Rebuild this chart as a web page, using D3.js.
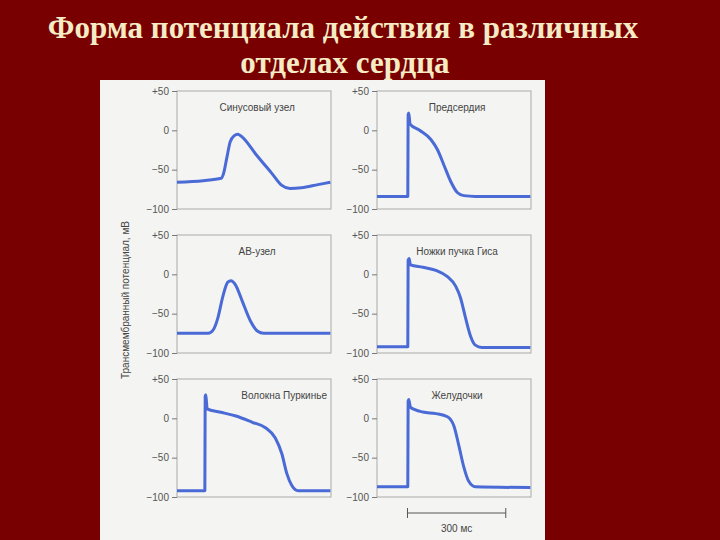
<!DOCTYPE html>
<html><head><meta charset="utf-8">
<script src="https://cdn.jsdelivr.net/npm/d3@7"></script>
<style>body{margin:0;background:#7a0000}svg{display:block}</style>
</head><body>
<svg width="720" height="540"></svg>
<script>
// данные: [время, мс; потенциал, мВ]
const titles = ['Синусовый узел', 'Предсердия', 'АВ-узел', 'Ножки пучка Гиса', 'Волокна Пуркинье', 'Желудочки']
const yTicks = [50, 0, -50, -100]
const tickLabels = ['+50', '0', '\u221250', '\u2212100']

const sinus = [[0,-66],[80,-64],[135,-61],[142,-55],[152,-35],[162,-15],[174,-7],[186,-5],[200,-9],[240,-30],[290,-55],[320,-70],[345,-74],[380,-73],[430,-69],[468,-66]]
const atria = [[0,-84],[94,-84],[95,20],[97,22],[101,8],[130,0],[165,-12],[185,-25],[205,-45],[225,-65],[245,-79],[265,-83],[300,-84],[468,-84]]
const avNode = [[0,-75],[95,-75],[110,-71],[125,-55],[140,-28],[155,-10],[165,-8],[178,-13],[200,-35],[225,-60],[245,-72],[265,-75],[468,-75]]
const his = [[0,-92],[94,-92],[95,18],[98,20],[102,12],[140,9],[180,5],[215,-3],[240,-15],[255,-30],[270,-55],[285,-78],[300,-90],[320,-93],[468,-93]]
const purkinje = [[0,-92],[85,-92],[86,28],[88,30],[92,12],[130,8],[180,3],[230,-5],[270,-12],[300,-25],[320,-45],[335,-70],[350,-85],[370,-92],[468,-92]]
const ventricle = [[0,-87],[94,-87],[95,22],[97,24],[102,14],[140,8],[180,6],[215,2],[235,-10],[250,-35],[265,-62],[280,-80],[300,-87],[468,-88]]
const series = [sinus, atria, avNode, his, purkinje, ventricle]

const svg = d3.select('svg')

svg.append('rect').attr('width', 720).attr('height', 540).attr('fill', '#780000')

svg.selectAll('text.title').data(['Форма потенциала действия в различных', 'отделах сердца'])
    .enter().append('text')
    .attr('x', (d, i) => i ? 345 : 343).attr('y', (d, i) => 38 + i * 35)
    .attr('text-anchor', 'middle')
    .attr('font-family', 'Liberation Serif, serif').attr('font-weight', 'bold').attr('font-size', 31)
    .attr('fill', '#f5ebc4').text(d => d)

svg.append('rect').attr('x', 100).attr('y', 80).attr('width', 445).attr('height', 460).attr('fill', '#f4f4f2')

const cols = [177, 377]
const rows = [91, 235, 379]
const pw = 154, ph = 118

const xscale = d3.scaleLinear().domain([0, 470]).range([0, pw])
const yscale = d3.scaleLinear().domain([-100, 50]).range([ph, 0])
const line = d3.line().x(d => xscale(d[0])).y(d => yscale(d[1])).curve(d3.curveMonotoneX)

series.forEach((data, i) => {
    const g = svg.append('g').attr('transform', `translate(${cols[i % 2]}, ${rows[Math.floor(i / 2)]})`)
    g.append('rect').attr('width', pw).attr('height', ph).attr('fill', 'none').attr('stroke', '#999').attr('stroke-width', 0.8)
    const axis = g.append('g').call(d3.axisLeft(yscale).tickValues(yTicks).tickSize(5).tickFormat((d, j) => tickLabels[j]))
    axis.select('.domain').remove()
    axis.selectAll('line').attr('stroke', '#777')
    axis.selectAll('text').attr('fill', '#555').attr('font-family', 'Liberation Sans, Arial').attr('font-size', 10)
    g.append('text').attr('x', i === 4 ? pw - 4 : pw * 0.52).attr('y', 20)
        .attr('text-anchor', i === 4 ? 'end' : 'middle')
        .attr('font-family', 'Liberation Sans, Arial').attr('font-size', 10).attr('fill', '#444').text(titles[i])
    g.append('path').datum(data).attr('d', line).attr('fill', 'none')
        .attr('stroke', '#4a6ad6').attr('stroke-width', 3).attr('stroke-linejoin', 'round')
})

// шкала 300 мс
const sb = svg.append('g').attr('transform', `translate(${cols[1] + xscale(93)}, 513)`)
sb.append('line').attr('x1', 0).attr('x2', xscale(300)).attr('stroke', '#555')
sb.selectAll('line.e').data([0, 300]).enter().append('line')
    .attr('x1', d => xscale(d)).attr('x2', d => xscale(d)).attr('y1', -5).attr('y2', 5).attr('stroke', '#555')
sb.append('text').attr('x', xscale(150)).attr('y', 19).attr('text-anchor', 'middle')
    .attr('font-family', 'Liberation Sans, Arial').attr('font-size', 10).attr('fill', '#444').text('300 мс')

svg.append('text').attr('transform', 'translate(129, 300) rotate(-90)').attr('text-anchor', 'middle')
    .attr('font-family', 'Liberation Sans, Arial').attr('font-size', 10).attr('fill', '#444')
    .text('Трансмембранный потенциал, мВ')
</script>
</body></html>
